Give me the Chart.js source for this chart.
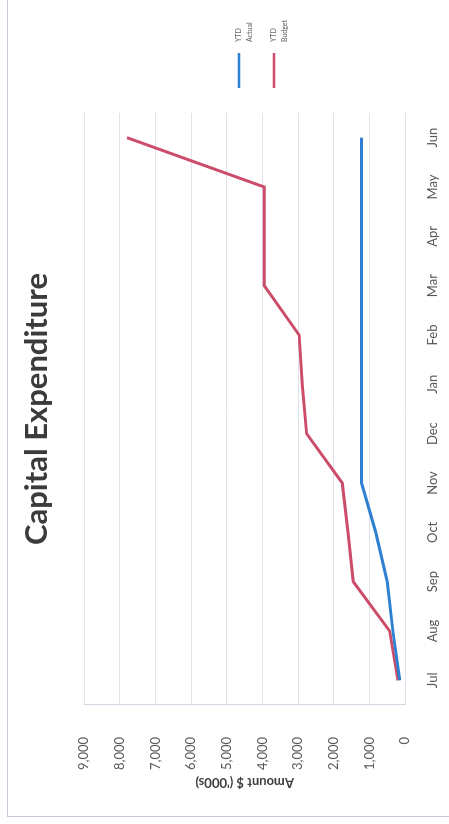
<!DOCTYPE html>
<html>
<head>
<meta charset="utf-8">
<title>Capital Expenditure</title>
<script src="https://cdn.jsdelivr.net/npm/chart.js@4"></script>
<style>
  html, body { margin: 0; padding: 0; background: #fff; overflow: hidden; }
  /* chart is laid out landscape, then turned to stand on its side */
  #wrap {
    position: absolute;
    left: 0;
    top: 824px;
    width: 824px;
    height: 449px;
    transform-origin: 0 0;
    transform: rotate(-90deg);
  }
  #frame {
    position: absolute;
    left: 7px; top: 7px; right: -2px; bottom: -2px;
    border: 1px solid #c9c9da;
  }
</style>
</head>
<body>
<div id="wrap">
  <div id="frame"></div>
  <canvas id="capex" width="824" height="449"></canvas>
</div>
<script>
const months = ["Jul", "Aug", "Sep", "Oct", "Nov", "Dec", "Jan", "Feb", "Mar", "Apr", "May", "Jun"];
const ytdActual = [150, 340, 500, 820, 1220, 1220, 1220, 1220, 1220, 1220, 1220, 1220];
const ytdBudget = [200, 430, 1450, 1600, 1760, 2760, 2880, 2970, 3950, 3950, 3950, 7800];
const seriesNames = [["YTD", "Actual"], ["YTD", "Budget"]];
const seriesColors = ["#2f80d2", "#cc4d69"];

// small two-line legend on the right of the plot
const sideLegend = {
  id: "sideLegend",
  afterDraw(chart) {
    const ctx = chart.ctx;
    ctx.save();
    ctx.font = "7px Lato";
    ctx.textBaseline = "middle";
    chart.data.datasets.forEach((ds, i) => {
      const y = 239 + i * 35;
      ctx.strokeStyle = ds.borderColor;
      ctx.lineWidth = 2.5;
      ctx.beginPath();
      ctx.moveTo(736, y);
      ctx.lineTo(771, y);
      ctx.stroke();
      ctx.fillStyle = "#595959";
      ds.label.forEach((t, k) => ctx.fillText(t, 782, y + k * 11));
    });
    ctx.restore();
  }
};

const chart = new Chart(document.getElementById("capex"), {
  type: "line",
  data: {
    labels: months,
    datasets: [
      { label: seriesNames[0], data: ytdActual, borderColor: seriesColors[0], backgroundColor: seriesColors[0] },
      { label: seriesNames[1], data: ytdBudget, borderColor: seriesColors[1], backgroundColor: seriesColors[1] }
    ]
  },
  options: {
    responsive: false,
    animation: false,
    layout: { padding: { left: 0, right: 113, top: 0, bottom: 0 } },
    elements: {
      line: { borderWidth: 3, tension: 0 },
      point: { radius: 0 }
    },
    plugins: {
      legend: { display: false },
      tooltip: { enabled: false },
      title: {
        display: true,
        text: "Capital Expenditure",
        fullSize: false,
        color: "#3b3b3b",
        font: { family: "Lato", size: 31, weight: "bold" },
        padding: { top: 18, bottom: 29 }
      }
    },
    scales: {
      x: {
        offset: true,
        grid: { display: false, drawTicks: false },
        border: { display: false },
        ticks: { color: "#595959", font: { family: "Lato", size: 13 }, padding: 20, maxRotation: 0 },
        afterFit(scale) { scale.height = 44; }
      },
      y: {
        min: 0,
        max: 9000,
        grid: { color: "#e2e2ee", drawTicks: false },
        border: { display: true, color: "#d4d4e2" },
        ticks: {
          stepSize: 1000,
          color: "#595959",
          font: { family: "Lato", size: 13 },
          padding: 32,
          callback: v => v.toLocaleString("en-US")
        },
        title: {
          display: true,
          text: "Amount $ ('000s)",
          color: "#404040",
          font: { family: "Lato", size: 13, weight: "bold" },
          padding: { top: 34, bottom: 0 }
        },
        afterFit(scale) { scale.width = 119; }
      }
    }
  },
  plugins: [sideLegend]
});
</script>
</body>
</html>
